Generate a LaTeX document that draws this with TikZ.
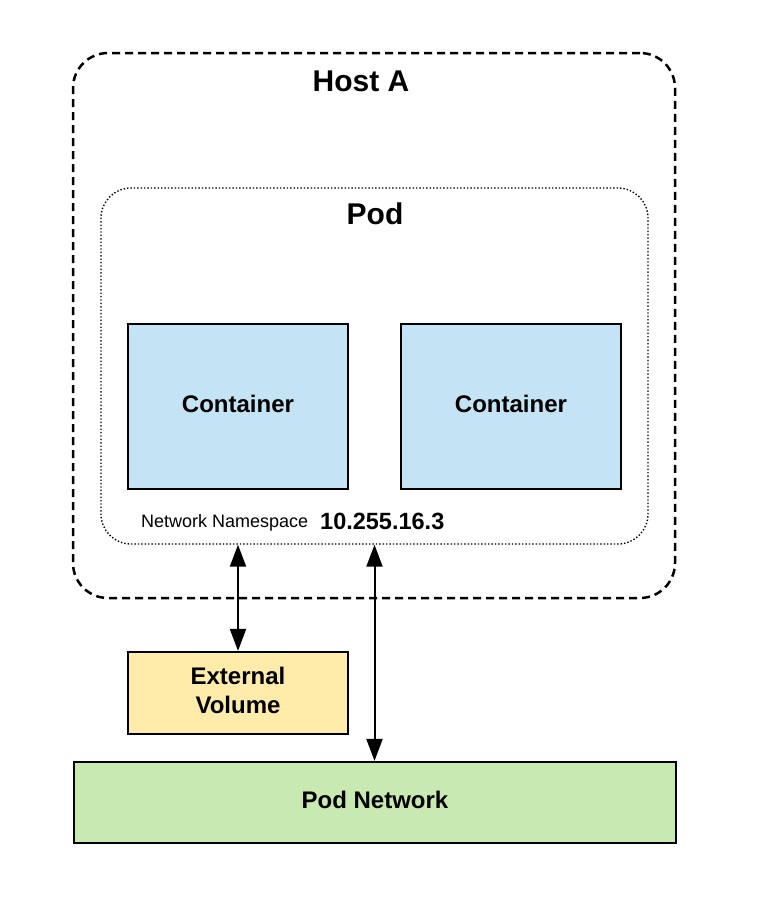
\documentclass[tikz,border=0pt]{standalone}
\usepackage{fontspec}
\setmainfont{Liberation Sans}
\usepackage{xcolor}
\definecolor{containerblue}{RGB}{196,228,245}
\definecolor{volumeyellow}{RGB}{255,236,170}
\definecolor{netgreen}{RGB}{200,234,178}
\usetikzlibrary{arrows.meta,positioning}
\tikzset{
  box/.style={draw, line width=2.2pt, text depth=6pt, font=\fontsize{24}{29}\selectfont\bfseries, align=center},
  link/.style={line width=2pt, {Triangle[length=22pt,width=16pt]}-{Triangle[length=22pt,width=16pt]}}
}

\begin{document}
\begin{tikzpicture}[x=1pt, y=-1pt]
    \useasboundingbox (0,0) rectangle (784,906);
    \node[draw, line width=2.5pt, dash pattern=on 8pt off 5pt, rounded corners=35pt, minimum width=602pt, minimum height=545pt] (host) at (374,325.5) {};
    \node[font=\fontsize{30}{34}\selectfont\bfseries] (hostname) at (361,81) {Host A};
    \node[draw, line width=1.4pt, dash pattern=on 1.4pt off 2pt, rounded corners=30pt, minimum width=547pt, minimum height=356pt] (pod) at (374.5,366) {};
    \node[font=\fontsize{30}{34}\selectfont\bfseries] (podname) at (375,214) {Pod};
    \node[box, fill=containerblue, minimum width=220pt, minimum height=165pt] (c1) at (238,406.5) {Container};
    \node[box, fill=containerblue, minimum width=220pt, minimum height=165pt] (c2) at (511,406.5) {Container};
    \node[anchor=west, inner sep=0pt, font=\fontsize{18}{22}\selectfont] (ns) at (141,523) {Network Namespace};
    \node[anchor=west, inner sep=0pt, font=\fontsize{23.5}{28}\selectfont\bfseries] (ip) at (320,521) {10.255.16.3};
    \node[box, fill=volumeyellow, minimum width=220pt, minimum height=82pt] (vol) at (238,693) {External\\Volume};
    \node[box, fill=netgreen, minimum width=602pt, minimum height=81pt] (net) at (375,802.5) {Pod Network};
    \draw[link] (pod.south -| vol.north) -- (vol.north);
    \draw[link] (pod.south) -- (pod.south |- net.north);
\end{tikzpicture}
\end{document}
